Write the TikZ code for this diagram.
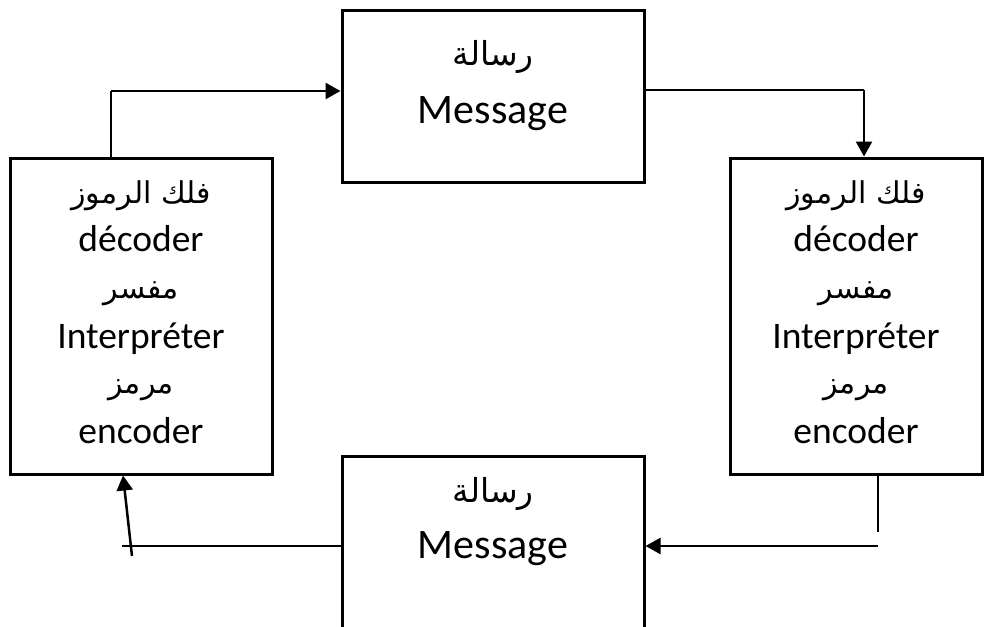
\documentclass[tikz,border=0pt]{standalone}
\usepackage{fontspec}
\setmainfont{Carlito}
\newfontfamily\arabicfont[Script=Arabic]{DejaVu Sans}
\TeXXeTstate=1
\usetikzlibrary{arrows.meta,calc}

\tikzset{
  box/.style={draw, line width=3pt, rectangle, inner sep=0pt, anchor=center},
  thinline/.style={line width=1.3pt},
  flow/.style={line width=2.5pt, -{Triangle[length=15pt,width=16pt]}},
  msgtext/.style={font=\fontsize{42}{42}\selectfont, anchor=base},
  sidetext/.style={font=\fontsize{37.5}{37.5}\selectfont, anchor=base},
  artext/.style={font=\arabicfont\fontsize{30}{30}\selectfont, anchor=base},
  armsg/.style={font=\arabicfont\fontsize{33}{33}\selectfont, anchor=base},
}

\begin{document}
\begin{tikzpicture}[x=1pt,y=-1pt]
  \useasboundingbox (0,0) rectangle (984,626);
  \clip (0,0) rectangle (984,626);

  % the four boxes
  \node[box, minimum width=302pt, minimum height=171pt] (msgtop) at (493,96.5) {};
  \node[box, minimum width=262pt, minimum height=316pt] (lbox)   at (141,316) {};
  \node[box, minimum width=252pt, minimum height=316pt] (rbox)   at (856,316) {};
  \node[box, minimum width=302pt, minimum height=230pt] (msgbot) at (493,571) {};

  % message texts
  \node[armsg]   at ($(msgtop.north)+(0,56)$)  {\beginR رسالة\endR};
  \node[msgtext] at ($(msgtop.north)+(0,114)$) {Message};
  \node[armsg]   at ($(msgbot.north)+(0,48)$)  {\beginR رسالة\endR};
  \node[msgtext] at ($(msgbot.north)+(0,104)$) {Message};

  % texts of the two side boxes
  \foreach \b in {lbox,rbox} {
    \node[artext]   at ($(\b.north)+(0,47)$)  {\beginR فلك الرموز\endR};
    \node[sidetext] at ($(\b.north)+(0,95)$)  {décoder};
    \node[artext]   at ($(\b.north)+(0,142)$) {\beginR مفسر\endR};
    \node[sidetext] at ($(\b.north)+(0,192)$) {Interpréter};
    \node[artext]   at ($(\b.north)+(0,237)$) {\beginR مرمز\endR};
    \node[sidetext] at ($(\b.north)+(0,287)$) {encoder};
  }

  % connector bends and free ends
  \coordinate (tl)  at (111,91);
  \coordinate (tr)  at (864,90);
  \coordinate (br1) at (878,532);
  \coordinate (br2) at (878,546);
  \coordinate (bl1) at (122,546);
  \coordinate (bl2) at (132,556);
  \coordinate (blt) at (123,474);

  % left box to top message
  \draw[thinline] (lbox.north -| tl) -- (tl);
  \draw[flow] (tl) -- (tl -| msgtop.west);

  % top message to right box
  \draw[thinline] (msgtop.east |- tr) -- (tr);
  \draw[flow] (tr) -- (tr |- rbox.north);

  % right box to bottom message
  \draw[thinline] (rbox.south -| br1) -- (br1);
  \draw[flow] (br2) -- (br2 -| msgbot.east);

  % bottom message to left box
  \draw[thinline] (msgbot.west |- bl1) -- (bl1);
  \draw[flow] (bl2) -- (lbox.south -| blt);
\end{tikzpicture}
\end{document}
